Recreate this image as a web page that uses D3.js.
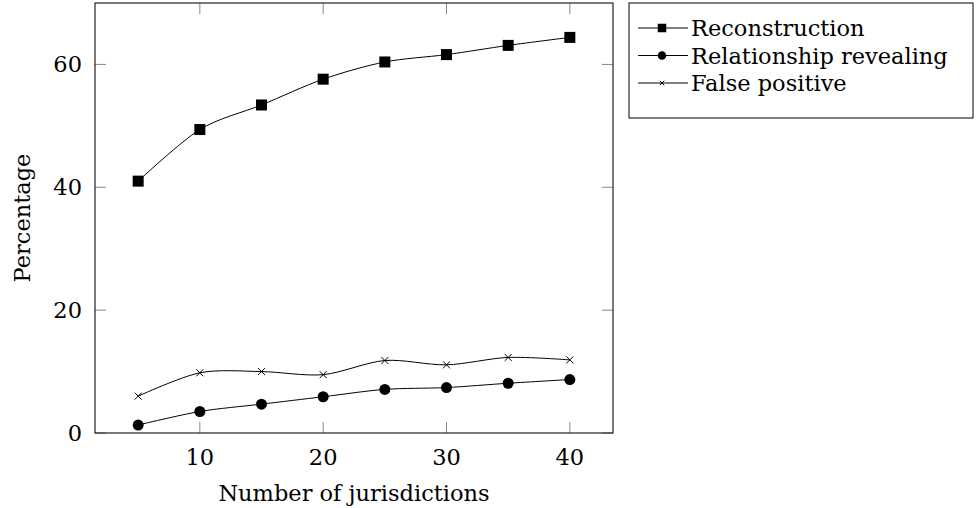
<!DOCTYPE html>
<html>
<head>
<meta charset="utf-8">
<script src="https://cdn.jsdelivr.net/npm/d3@7"></script>
<style>
  body { margin: 0; background: #fff; }
  svg { display: block; }
  text { font-family: 'DejaVu Serif', serif; fill: #000; }
</style>
</head>
<body>
<svg id="chart" width="976" height="508"></svg>
<script>
// data
const jurisdictions = [5, 10, 15, 20, 25, 30, 35, 40];
const reconstruction = [41.0, 49.4, 53.4, 57.6, 60.4, 61.6, 63.1, 64.4];
const relationship = [1.3, 3.5, 4.7, 5.9, 7.1, 7.4, 8.1, 8.7];
const falsePositive = [6.0, 9.8, 10.0, 9.5, 11.8, 11.1, 12.3, 11.9];
const xTicks = [10, 20, 30, 40];
const yTicks = [0, 20, 40, 60];

const series = [
  { name: 'Reconstruction', values: reconstruction, mark: 'square' },
  { name: 'Relationship revealing', values: relationship, mark: 'circle' },
  { name: 'False positive', values: falsePositive, mark: 'cross' },
];

const svg = d3.select('#chart');
const box = { left: 95, right: 613, top: 3, bottom: 433 };
const FS = 22.5;

const x = d3.scaleLinear().domain([1.5, 43.5]).range([box.left, box.right]);
const y = d3.scaleLinear().domain([0, 70]).range([box.bottom, box.top]);

const TICK = 11;

// ticks on all four sides, pointing inward
const axisG = svg.append('g');
axisG.selectAll('line.xt').data(xTicks).join('line')
  .attr('x1', d => x(d)).attr('x2', d => x(d))
  .attr('y1', box.bottom).attr('y2', box.bottom - TICK)
  .attr('stroke', '#888').attr('stroke-width', 1);
axisG.selectAll('line.xt2').data(xTicks).join('line')
  .attr('x1', d => x(d)).attr('x2', d => x(d))
  .attr('y1', box.top).attr('y2', box.top + TICK)
  .attr('stroke', '#888').attr('stroke-width', 1);
axisG.selectAll('line.yt').data(yTicks).join('line')
  .attr('y1', d => y(d)).attr('y2', d => y(d))
  .attr('x1', box.left).attr('x2', box.left + TICK)
  .attr('stroke', '#888').attr('stroke-width', 1);
axisG.selectAll('line.yt2').data(yTicks).join('line')
  .attr('y1', d => y(d)).attr('y2', d => y(d))
  .attr('x1', box.right).attr('x2', box.right - TICK)
  .attr('stroke', '#888').attr('stroke-width', 1);

axisG.append('rect')
  .attr('x', box.left).attr('y', box.top)
  .attr('width', box.right - box.left).attr('height', box.bottom - box.top)
  .attr('fill', 'none').attr('stroke', '#222').attr('stroke-width', 1.2);

axisG.selectAll('text.xl').data(xTicks).join('text')
  .attr('x', d => x(d)).attr('y', box.bottom + 24)
  .attr('text-anchor', 'middle').attr('dominant-baseline', 'central')
  .attr('font-size', FS).text(d => d);
axisG.selectAll('text.yl').data(yTicks).join('text')
  .attr('x', box.left - 13).attr('y', d => y(d))
  .attr('text-anchor', 'end').attr('dominant-baseline', 'central')
  .attr('font-size', FS).text(d => d);

svg.append('text')
  .attr('x', (box.left + box.right) / 2).attr('y', 493)
  .attr('text-anchor', 'middle').attr('dominant-baseline', 'central')
  .attr('font-size', FS).text('Number of jurisdictions');
svg.append('text')
  .attr('transform', `translate(22,${(box.top + box.bottom) / 2}) rotate(-90)`)
  .attr('text-anchor', 'middle').attr('dominant-baseline', 'central')
  .attr('font-size', FS).text('Percentage');

function drawMark(g, kind, size) {
  if (kind === 'square') {
    g.append('rect').attr('x', -size / 2).attr('y', -size / 2)
      .attr('width', size).attr('height', size).attr('fill', '#000');
  } else if (kind === 'circle') {
    g.append('circle').attr('r', size / 2).attr('fill', '#000');
  } else {
    const h = size * 0.32;
    g.append('path').attr('d', `M${-h},${-h}L${h},${h}M${-h},${h}L${h},${-h}`)
      .attr('stroke', '#000').attr('stroke-width', 1).attr('fill', 'none');
  }
}

const line = d3.line()
  .x((d, i) => x(jurisdictions[i]))
  .y(d => y(d))
  .curve(d3.curveCardinal.tension(0.1));

for (const s of series) {
  svg.append('path').datum(s.values)
    .attr('d', line).attr('fill', 'none')
    .attr('stroke', '#000').attr('stroke-width', 1);
  svg.append('g').selectAll('g').data(s.values).join('g')
    .attr('transform', (d, i) => `translate(${x(jurisdictions[i])},${y(d)})`)
    .each(function () { drawMark(d3.select(this), s.mark, 11); });
}

// legend
const leg = svg.append('g');
leg.append('rect').attr('x', 629).attr('y', 3).attr('width', 344).attr('height', 115)
  .attr('fill', '#fff').attr('stroke', '#000').attr('stroke-width', 1);
series.forEach((s, i) => {
  const cy = 28 + i * 27.5;
  leg.append('line').attr('x1', 638).attr('x2', 688).attr('y1', cy).attr('y2', cy)
    .attr('stroke', '#000').attr('stroke-width', 1);
  const m = leg.append('g').attr('transform', `translate(662,${cy})`);
  drawMark(m, s.mark, s.mark === 'cross' ? 7 : 8.5);
  leg.append('text').attr('x', 691).attr('y', cy)
    .attr('dominant-baseline', 'central').attr('font-size', FS).text(s.name);
});
</script>
</body>
</html>
